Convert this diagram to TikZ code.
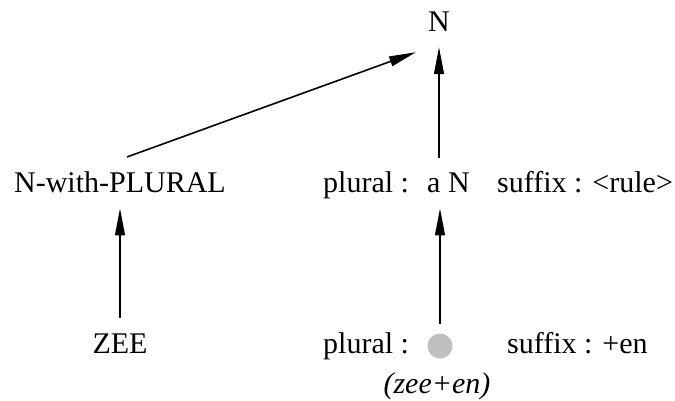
\documentclass[tikz,border=0pt]{standalone}
\usepackage{fontspec}
\setmainfont{Liberation Serif}
\usepackage{tikz}
\usetikzlibrary{positioning,arrows.meta}

\begin{document}
\begin{tikzpicture}[
  x=1pt, y=-1pt,
  font=\fontsize{30}{36}\selectfont,
  lbl/.style={inner xsep=12pt, inner ysep=15pt},
  arr/.style={-{Triangle[length=27pt, width=10pt]}, line width=1.3pt, draw=black}
]
\useasboundingbox (0,0) rectangle (675,401);

\node[lbl, anchor=base] (top) at (439,32) {N};

\node[lbl, anchor=base] (nwp) at (120,193) {N-with-PLURAL};
\node[lbl, anchor=base] (zee) at (120,353) {ZEE};

\node[lbl, anchor=base west, inner xsep=0pt] (plA) at (323,193) {plural :};
\node[lbl, anchor=base west, inner xsep=0pt] (an)  at (427,193) {a N};
\node[lbl, anchor=base west, inner xsep=0pt] (sfA) at (497,193) {suffix : <rule>};

\node[lbl, anchor=base west, inner xsep=0pt] (plB) at (323,353) {plural :};
\node[circle, fill=gray!50, minimum size=25pt, inner sep=0pt, outer sep=10pt] (dot) at (440,346) {};
\node[lbl, anchor=base west, inner xsep=0pt] (sfB) at (507,353) {suffix : +en};
\node[anchor=base, inner sep=0pt] (zen) at (437,393) {\itshape (zee+en)};

\draw[arr, line width=1.6pt] ([xshift=7pt]nwp.north) -- ([yshift=-5pt]top.south west);
\draw[arr] (top.south |- an.north) -- (top.south);
\draw[arr] (zee.north) -- (nwp.south);
\draw[arr] (dot.north) -- (dot.north |- an.south);

\end{tikzpicture}
\end{document}
